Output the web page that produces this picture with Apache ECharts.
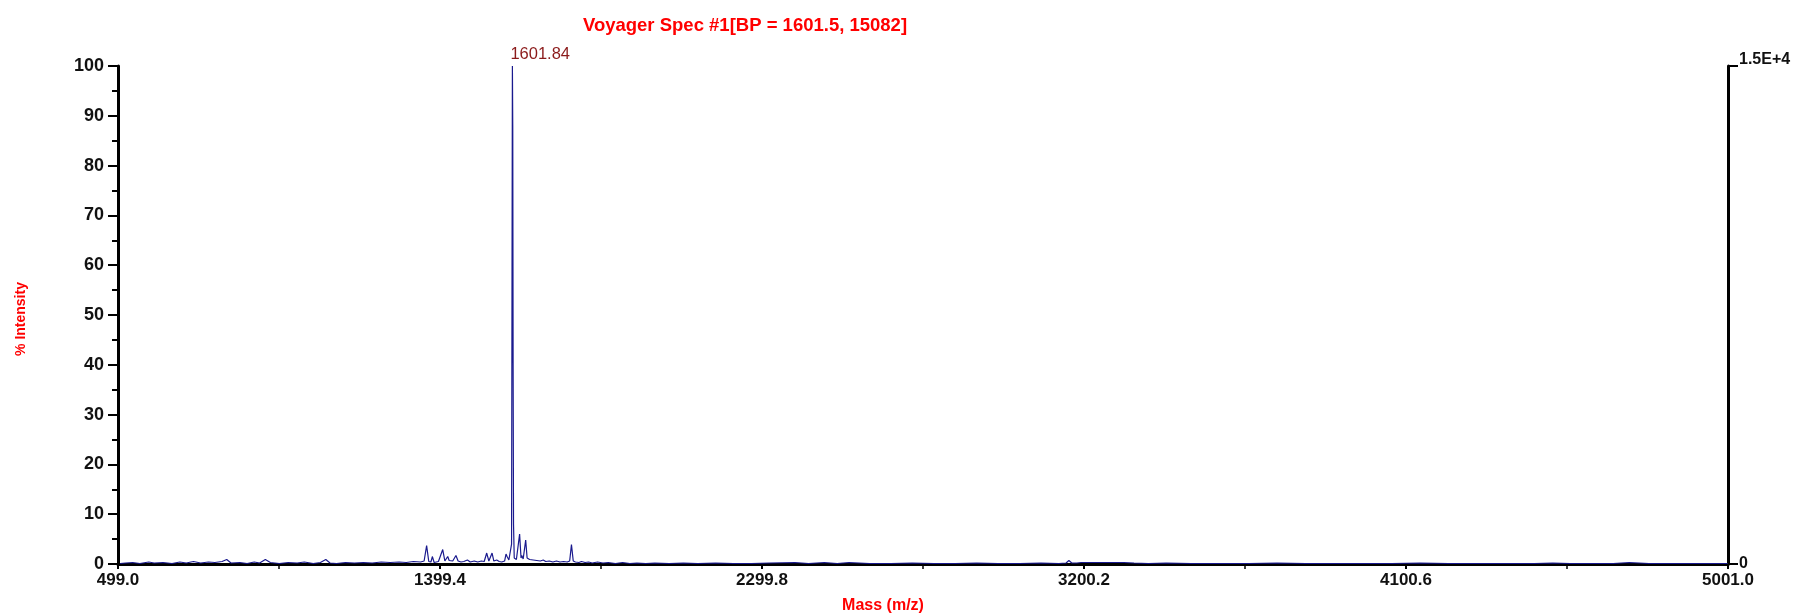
<!DOCTYPE html>
<html>
<head>
<meta charset="utf-8">
<script src="https://cdn.jsdelivr.net/npm/echarts@6/dist/echarts.min.js"></script>
<style>
html,body{margin:0;padding:0;background:#fff;}
#chart{width:1798px;height:613px;}
</style>
</head>
<body>
<div id="chart"></div>
<script>
const titleText = 'Voyager Spec #1[BP = 1601.5, 15082]';
const xName = 'Mass (m/z)';
const yName = '% Intensity';
const massMin = 499.0;
const massMax = 5001.0;
const massStep = 900.4;
const basePeakCounts = 15082;
const peakMass = 1601.84;
const peakIntensity = 100;

// m/z values
const masses = [
  505, 520, 540, 560, 585, 600, 625, 650, 672, 690, 710, 730, 752, 770, 790, 803, 815, 840, 860, 880,
  895, 911, 925, 950, 975, 1000, 1020, 1045, 1065, 1080, 1092, 1110, 1135, 1160, 1185, 1210, 1235, 1260, 1285, 1305,
  1325, 1345, 1355, 1362, 1368, 1374, 1378, 1383, 1395, 1400, 1407, 1413, 1421, 1425, 1430, 1435, 1444, 1450, 1458, 1466,
  1476, 1484, 1495, 1505, 1515, 1523, 1530, 1536, 1545, 1550, 1558, 1565, 1572, 1580, 1584, 1587, 1592, 1596, 1599.5, 1600.84,
  1601.84, 1602.84, 1603.84, 1605, 1607, 1610, 1613, 1617, 1622, 1626, 1628, 1632, 1635, 1639, 1643, 1645, 1650, 1655, 1660, 1665,
  1670, 1675, 1680, 1688, 1695, 1705, 1715, 1725, 1735, 1745, 1755, 1762, 1767, 1772, 1778, 1782, 1788, 1795, 1805, 1815,
  1825, 1840, 1855, 1870, 1890, 1910, 1930, 1950, 1975, 2000, 2040, 2080, 2120, 2170, 2220, 2270, 2320, 2392, 2430, 2474,
  2510, 2543, 2600, 2660, 2720, 2780, 2840, 2900, 2960, 3020, 3080, 3130, 3150, 3158, 3166, 3180, 3192, 3210, 3230, 3250,
  3270, 3290, 3312, 3340, 3380, 3430, 3500, 3580, 3660, 3740, 3820, 3900, 3980, 4060, 4140, 4220, 4300, 4380, 4460, 4511,
  4560, 4620, 4680, 4725, 4780, 4840, 4900, 4960, 5000
];

// % intensity at each m/z
const intensity = [
  0.1, 0.2, 0.3, 0.1, 0.4, 0.2, 0.3, 0.1, 0.4, 0.2, 0.5, 0.2, 0.4, 0.3, 0.5, 0.9, 0.2, 0.3, 0.1, 0.4,
  0.2, 0.9, 0.3, 0.1, 0.3, 0.2, 0.4, 0.1, 0.3, 0.9, 0.2, 0.1, 0.3, 0.2, 0.3, 0.2, 0.4, 0.3, 0.4, 0.3,
  0.5, 0.4, 0.6, 3.7, 0.5, 0.4, 1.5, 0.3, 0.5, 0.3, 2.9, 0.6, 1.5, 0.7, 0.9, 0.6, 1.7, 0.6, 0.4, 0.5,
  0.8, 0.4, 0.6, 0.4, 0.6, 0.5, 2.2, 0.6, 2.2, 0.6, 0.8, 0.5, 0.4, 0.6, 2.0, 1.5, 0.8, 1.0, 4.0, 60,
  100, 88, 40, 8, 1.2, 1.3, 0.9, 1.0, 6.0, 1.2, 1.7, 1.0, 1.1, 4.8, 1.2, 1.5, 0.9, 1.1, 0.8, 1.0,
  0.7, 0.9, 0.6, 0.8, 0.5, 0.6, 0.4, 0.6, 0.4, 0.5, 0.4, 0.6, 3.9, 0.6, 0.4, 0.7, 0.3, 0.5, 0.3, 0.4,
  0.2, 0.4, 0.2, 0.3, 0.1, 0.3, 0.1, 0.2, 0.1, 0.2, 0.1, 0.2, 0.1, 0.2, 0.1, 0.1, 0.2, 0.3, 0.1, 0.3,
  0.1, 0.3, 0.1, 0.1, 0.2, 0.1, 0.1, 0.2, 0.1, 0.1, 0.2, 0.1, 0.2, 0.7, 0.2, 0.2, 0.3, 0.3, 0.3, 0.3,
  0.3, 0.3, 0.3, 0.2, 0.1, 0.2, 0.1, 0.1, 0.1, 0.2, 0.1, 0.1, 0.1, 0.1, 0.2, 0.1, 0.1, 0.1, 0.1, 0.2,
  0.1, 0.1, 0.1, 0.3, 0.1, 0.1, 0.1, 0.1, 0.1
];

const FONT = "'Liberation Sans', Arial, Helvetica, sans-serif";
const chart = echarts.init(document.getElementById('chart'), null, {renderer: 'canvas'});
const seriesData = masses.map((m, i) => [m, intensity[i]]);

chart.setOption({
  animation: false,
  backgroundColor: '#ffffff',
  title: {
    text: titleText,
    left: 740,
    top: 11,
    textAlign: 'center',
    textStyle: {color: '#ff0000', fontSize: 18.5, fontWeight: 'bold', fontFamily: FONT}
  },
  grid: {left: 118, right: 70, top: 66, bottom: 49, containLabel: false},
  xAxis: {
    type: 'value',
    min: massMin,
    max: massMax,
    interval: massStep,
    axisLine: {show: true, onZero: false, lineStyle: {color: '#000', width: 3}},
    axisTick: {show: true, inside: false, length: 5, lineStyle: {color: '#000', width: 2}},
    minorTick: {show: true, splitNumber: 2, length: 5, lineStyle: {color: '#000', width: 1.5}},
    splitLine: {show: false},
    axisLabel: {
      margin: 8, color: '#111', fontSize: 17, fontWeight: 'bold', fontFamily: FONT,
      formatter: v => v.toFixed(1), showMinLabel: true, showMaxLabel: true
    }
  },
  yAxis: [
    {
      type: 'value',
      position: 'left',
      min: 0, max: 100, interval: 10,
      axisLine: {show: true, lineStyle: {color: '#000', width: 3}},
      axisTick: {show: true, inside: false, length: 10, lineStyle: {color: '#000', width: 2}},
      minorTick: {show: true, splitNumber: 2, length: 6, lineStyle: {color: '#000', width: 2}},
      splitLine: {show: false},
      axisLabel: {margin: 14, color: '#111', fontSize: 18, fontWeight: 'bold', fontFamily: FONT}
    },
    {
      type: 'value',
      position: 'right',
      min: 0, max: basePeakCounts, interval: basePeakCounts,
      axisLine: {show: true, lineStyle: {color: '#000', width: 3}},
      axisTick: {show: true, inside: false, length: 10, lineStyle: {color: '#000', width: 2}},
      splitLine: {show: false},
      axisLabel: {
        margin: 11, color: '#111', fontSize: 16, fontWeight: 'bold', fontFamily: FONT,
        formatter: v => (v === 0 ? '{z|0}' : '{t|' + (v / 1e4).toFixed(1) + 'E+4}'),
        rich: {
          z: {fontSize: 16, fontWeight: 'bold', fontFamily: FONT, color: '#111'},
          t: {fontSize: 16, fontWeight: 'bold', fontFamily: FONT, color: '#111', padding: [0, 0, 12, 0]}
        }
      }
    }
  ],
  series: [{
    type: 'line',
    yAxisIndex: 0,
    data: seriesData,
    showSymbol: false,
    symbol: 'none',
    lineStyle: {color: '#1a1a8e', width: 1.2},
    markPoint: {
      symbol: 'circle',
      symbolSize: 0,
      silent: true,
      data: [{coord: [peakMass, peakIntensity], value: peakMass}],
      label: {
        show: true,
        position: 'top',
        distance: 3,
        align: 'left',
        offset: [-2, 0],
        color: '#8b1a1a',
        fontSize: 16.5,
        fontFamily: FONT,
        formatter: p => Number(p.value).toFixed(2)
      }
    }
  }],
  graphic: [
    {
      type: 'text', x: 883, y: 606,
      style: {text: xName, fill: '#ff0000', font: 'bold 16px ' + FONT, align: 'center', verticalAlign: 'middle'}
    },
    {
      type: 'text', x: 21, y: 319, rotation: Math.PI / 2,
      style: {text: yName, fill: '#ff0000', font: 'bold 14px ' + FONT, align: 'center', verticalAlign: 'middle'}
    }
  ]
});
</script>
</body>
</html>
